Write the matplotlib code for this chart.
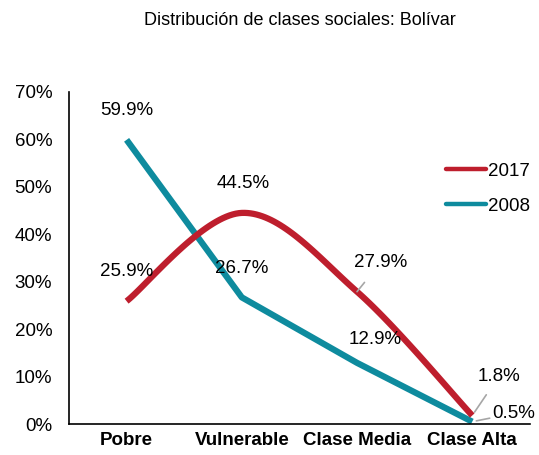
import numpy as np
import matplotlib.pyplot as plt
from matplotlib.lines import Line2D

plt.rcParams['font.family'] = ['Liberation Sans', 'DejaVu Sans']

categories = ['Pobre', 'Vulnerable', 'Clase Media', 'Clase Alta']
values_2017 = [25.9, 44.5, 27.9, 1.8]
values_2008 = [59.9, 26.7, 12.9, 0.5]

red = '#BE1E2D'
teal = '#0E8B9E'


def excel_smooth(x, y, n=40):
    # bezier smoothing like the spreadsheet "smoothed line" option
    x = np.asarray(x, float)
    y = np.asarray(y, float)
    px = np.concatenate([[x[0]], x, [x[-1]]])
    py = np.concatenate([[y[0]], y, [y[-1]]])
    xs, ys = [], []
    t = np.linspace(0, 1, n)
    for i in range(len(x) - 1):
        p0 = np.array([px[i + 1], py[i + 1]])
        p3 = np.array([px[i + 2], py[i + 2]])
        c1 = p0 + (np.array([px[i + 2], py[i + 2]]) - np.array([px[i], py[i]])) / 6
        c2 = p3 - (np.array([px[i + 3], py[i + 3]]) - np.array([px[i + 1], py[i + 1]])) / 6
        b = ((1 - t) ** 3)[:, None] * p0 + (3 * (1 - t) ** 2 * t)[:, None] * c1 \
            + (3 * (1 - t) * t ** 2)[:, None] * c2 + (t ** 3)[:, None] * p3
        xs.extend(b[:, 0])
        ys.extend(b[:, 1])
    return np.array(xs), np.array(ys)


fig = plt.figure(figsize=(5.39, 4.55), dpi=100)
ax = fig.add_axes([0.128, 0.068, 0.855, 0.73])

xpos = np.arange(len(categories))
sx, sy = excel_smooth(xpos, values_2017)
ax.plot(sx, sy, color=red, lw=4.5, solid_capstyle='butt', zorder=3)
ax.plot(xpos, values_2008, color=teal, lw=4.5, solid_capstyle='butt', zorder=2)

ax.set_xlim(-0.5, 3.5)
ax.set_ylim(0, 70)
ax.set_yticks(range(0, 71, 10))
ax.set_yticklabels([f'{v}%' for v in range(0, 71, 10)], fontsize=13.5)
ax.set_xticks(xpos)
ax.set_xticklabels(categories, fontsize=13.5, fontweight='bold')
ax.tick_params(axis='y', length=0, pad=12)
ax.tick_params(axis='x', length=0, pad=6)
for s in ['top', 'right']:
    ax.spines[s].set_visible(False)
for s in ['left', 'bottom']:
    ax.spines[s].set_linewidth(1.2)

lab = dict(fontsize=13.5, ha='center', va='center', textcoords='offset points')
gray = dict(arrowstyle='-', color='#A6A6A6', lw=1.2, shrinkB=0)
ax.annotate('59.9%', (0, values_2008[0]), xytext=(0, 21), **lab)
ax.annotate('25.9%', (0, values_2017[0]), xytext=(0, 21), **lab)
ax.annotate('44.5%', (1, values_2017[1]), xytext=(1, 21), **lab)
ax.annotate('26.7%', (1, values_2008[1]), xytext=(0, 21), **lab)
ax.annotate('27.9%', (2, values_2017[2]), xytext=(17, 21),
            arrowprops=dict(gray, shrinkA=8), **lab)
ax.annotate('12.9%', (2, values_2008[2]), xytext=(13, 17), **lab)
ax.annotate('1.8%', (3, values_2017[3]), xytext=(19, 28),
            arrowprops=dict(gray, shrinkA=6, shrinkB=3), **lab)
ax.annotate('0.5%', (3, values_2008[3]), xytext=(30, 6),
            arrowprops=dict(gray, shrinkA=20, shrinkB=3), **lab)

handles = [Line2D([], [], color=red, lw=3.2, solid_capstyle='round'),
           Line2D([], [], color=teal, lw=3.2, solid_capstyle='round')]
ax.legend(handles, ['2017', '2008'], loc='center left', bbox_to_anchor=(0.819, 0.709),
          frameon=False, fontsize=13.5, handlelength=2.1, handletextpad=0.1,
          labelspacing=0.95, borderpad=0, borderaxespad=0)

fig.text(0.556, 0.956, 'Distribución de clases sociales: Bolívar', ha='center', va='center',
         fontsize=13)

fig.savefig('out.png', dpi=100)
